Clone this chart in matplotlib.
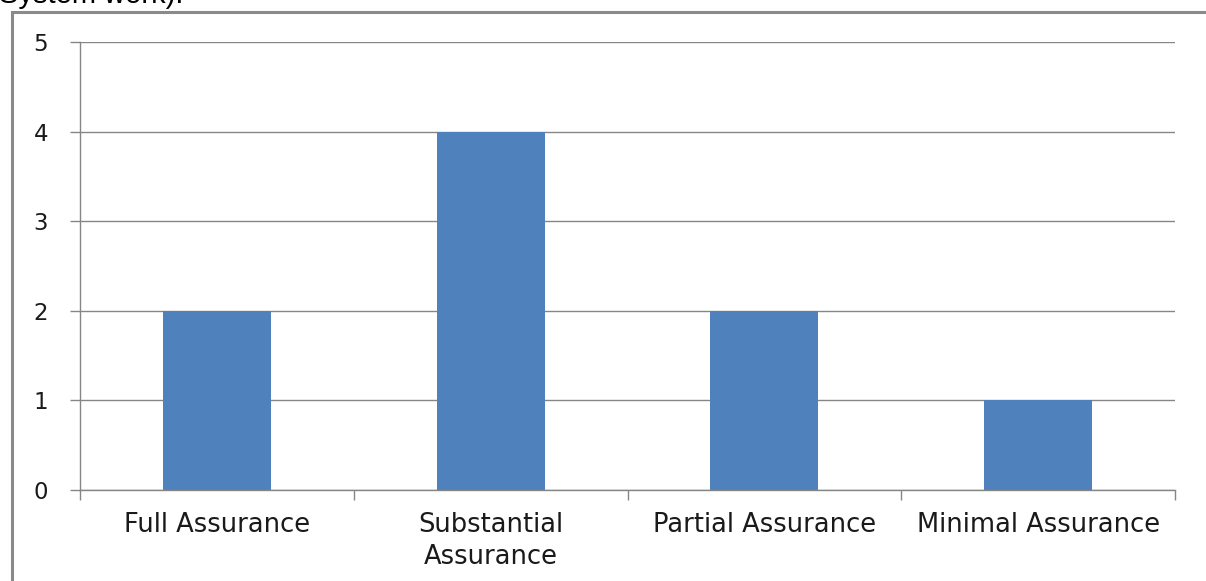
import matplotlib
matplotlib.use("Agg")
import matplotlib.pyplot as plt
from matplotlib.patches import Rectangle
import numpy as np

categories = ["Full Assurance", "Substantial\nAssurance", "Partial Assurance", "Minimal Assurance"]
values = [2, 4, 2, 1]
y_ticks = [0, 1, 2, 3, 4, 5]

W, H = 1206, 581
fig = plt.figure(figsize=(W / 100, H / 100), dpi=100)

def fx(px):
    return px / W

def fy(py):
    return 1 - py / H

# outer frame (chart border, cropped)
fig.patches.append(Rectangle((fx(12), fy(600)), fx(1300), fy(12) - fy(600),
                             transform=fig.transFigure, fill=False,
                             edgecolor="#8a8a8a", linewidth=2.2, zorder=0))
# cropped caption text at top
fig.text(fx(-1), fy(3), "System work).", fontsize=21, family="Liberation Sans",
         ha="left", va="baseline", color="black")

ax = fig.add_axes([fx(80), fy(490), fx(1175) - fx(80), fy(42) - fy(490)])
x = np.arange(len(categories))
ax.bar(x, values, width=0.395, color="#4F81BD", zorder=2)
ax.set_xlim(-0.5, len(categories) - 0.5)
ax.set_ylim(0, 5)

FONT = "DejaVu Sans"
ax.set_yticks(y_ticks)
ax.set_yticklabels([str(v) for v in y_ticks], fontsize=16.5, family=FONT, color="#1a1a1a")
ax.tick_params(axis="y", length=7, width=1, color="#868686", pad=16)
ax.yaxis.grid(True, color="#868686", linewidth=1, zorder=0)

ax.set_xticks(np.arange(-0.5, len(categories), 1.0))
ax.set_xticklabels([])
ax.set_xticks(x, minor=True)
ax.set_xticklabels(categories, minor=True, fontsize=18.5, family=FONT,
                   color="#1a1a1a", linespacing=1.28)
ax.tick_params(axis="x", which="major", length=7, width=1, color="#868686", direction="out")
ax.tick_params(axis="x", which="minor", length=0, pad=16)

for s in ["top", "right"]:
    ax.spines[s].set_visible(False)
for s in ["left", "bottom"]:
    ax.spines[s].set_color("#868686")
    ax.spines[s].set_linewidth(1)
ax.set_axisbelow(True)

fig.savefig("out.png", dpi=100, facecolor="white")
